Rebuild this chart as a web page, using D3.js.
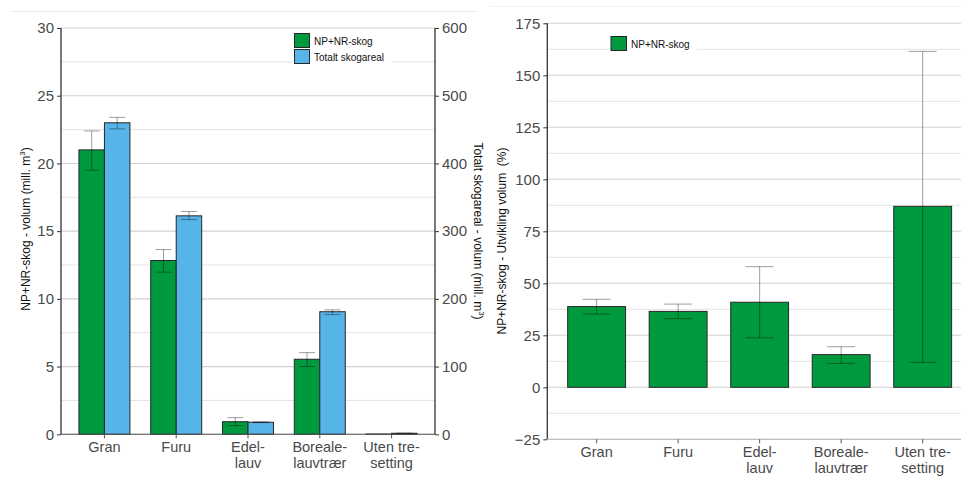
<!DOCTYPE html>
<html><head><meta charset="utf-8">
<script src="https://cdn.jsdelivr.net/npm/d3@7"></script>
<style>
body{margin:0;background:#fff;}
svg{display:block;font-family:"Liberation Sans",Arial,sans-serif;}
</style></head>
<body>
<svg id="c" width="961" height="495"></svg>
<script>
const categories = [["Gran"],["Furu"],["Edel-","lauv"],["Boreale-","lauvtrær"],["Uten tre-","setting"]];
const catKeys = ["Gran","Furu","Edel","Boreale","Uten"];
// Left panel: volume
const npVol   = [21.0, 12.83, 0.93, 5.54, 0.02];
const npVolLo = [19.5, 11.97, 0.64, 5.0, 0.02];
const npVolHi = [22.4, 13.64, 1.23, 6.03, 0.02];
const totVol   = [460, 322.6, 17.8, 181, 1.5];
const totVolLo = [451, 317, 17.3, 176.8, 1.2];
const totVolHi = [468, 329, 18.3, 183.8, 1.8];
const leftTicks = [0,5,10,15,20,25,30];
const rightTicks = [0,100,200,300,400,500,600];
// Right panel: development %
const devPct   = [38.8, 36.5, 40.9, 15.7, 87.0];
const devPctLo = [35.2, 33.0, 23.8, 11.5, 12.0];
const devPctHi = [42.3, 40.0, 58.0, 19.5, 161.5];
const devTicks = [-25,0,25,50,75,100,125,150,175];

const GREEN="#009a3e", BLUE="#56b4e9", STROKE="#262626";
const TICKCOL="#4a4a4a", GRIDMAJ="#d2d2d2", GRIDMIN="#e4e4e4", ERR="rgba(0,0,0,0.38)";
const svg = d3.select("#c");

// faint frame lines
svg.append("line").attr("x1",11).attr("x2",477).attr("y1",11.5).attr("y2",11.5).attr("stroke","#ececec");
svg.append("line").attr("x1",490).attr("x2",961).attr("y1",6.5).attr("y2",6.5).attr("stroke","#f2f2f2");

function catLabel(g, cx, y0, lines){
  lines.forEach((ln,j)=>g.append("text").attr("text-anchor","middle").attr("fill",TICKCOL)
    .style("font-size","14.5px").attr("x",cx).attr("y",y0+j*16.5).text(ln));
}

// ---------- LEFT PANEL ----------
(function(){
  const x0=61, x1=435, yTop=28, yBot=434.3;
  const y = d3.scaleLinear().domain([0,30]).range([yBot,yTop]);
  const y2 = d3.scaleLinear().domain([0,600]).range([yBot,yTop]);
  const xb = d3.scaleBand().domain(catKeys).range([x0,x1]).paddingInner(0.29).paddingOuter(0.25);
  const xs = d3.scaleBand().domain(["np","tot"]).range([0,xb.bandwidth()]);
  const g = svg.append("g");
  // grid
  const minor = d3.range(2.5,30,5);
  g.selectAll(".mn").data(minor).join("line").attr("x1",x0).attr("x2",x1)
    .attr("y1",d=>y(d)).attr("y2",d=>y(d)).attr("stroke",GRIDMIN).attr("stroke-width",1);
  g.selectAll(".mj").data(leftTicks).join("line").attr("x1",x0).attr("x2",x1)
    .attr("y1",d=>y(d)).attr("y2",d=>y(d)).attr("stroke",GRIDMAJ).attr("stroke-width",1.1);
  // bars
  catKeys.forEach((k,i)=>{
    g.append("rect").attr("x",xb(k)+xs("np")).attr("width",xs.bandwidth())
      .attr("y",y(npVol[i])).attr("height",y(0)-y(npVol[i]))
      .attr("fill",GREEN).attr("stroke",STROKE).attr("stroke-width",1);
    g.append("rect").attr("x",xb(k)+xs("tot")).attr("width",xs.bandwidth())
      .attr("y",y2(totVol[i])).attr("height",y2(0)-y2(totVol[i]))
      .attr("fill",BLUE).attr("stroke",STROKE).attr("stroke-width",1);
  });
  // error bars
  function eb(cx, lo, hi, sc, w){
    const e=g.append("g").attr("stroke",ERR).attr("stroke-width",1);
    e.append("line").attr("x1",cx).attr("x2",cx).attr("y1",sc(lo)).attr("y2",sc(hi));
    e.append("line").attr("x1",cx-w/2).attr("x2",cx+w/2).attr("y1",sc(lo)).attr("y2",sc(lo));
    e.append("line").attr("x1",cx-w/2).attr("x2",cx+w/2).attr("y1",sc(hi)).attr("y2",sc(hi));
  }
  catKeys.forEach((k,i)=>{
    if(npVolHi[i]>npVolLo[i]) eb(xb(k)+xs("np")+xs.bandwidth()/2, npVolLo[i], npVolHi[i], y, 16);
    if(totVolHi[i]>totVolLo[i]) eb(xb(k)+xs("tot")+xs.bandwidth()/2, totVolLo[i], totVolHi[i], y2, 16);
  });
  // axes
  const ax = g.append("g").attr("transform",`translate(${x0},0)`)
    .call(d3.axisLeft(y).tickValues(leftTicks).tickSize(4).tickPadding(3));
  const ax2 = g.append("g").attr("transform",`translate(${x1},0)`)
    .call(d3.axisRight(y2).tickValues(rightTicks).tickSize(4).tickPadding(3));
  const axb = g.append("g").attr("transform",`translate(0,${yBot})`)
    .call(d3.axisBottom(xb).tickSize(4).tickFormat(""));
  [ax,ax2].forEach(a=>{
    a.select(".domain").attr("stroke","#333").attr("stroke-width",1.3).attr("d",`M0,${yTop}V${yBot}`);
    a.selectAll(".tick line").attr("stroke","#333");
    a.selectAll("text").attr("fill",TICKCOL).style("font-size","15px").style("font-family","Liberation Sans, Arial, sans-serif");
  });
  axb.select(".domain").attr("stroke","#555").attr("stroke-width",1.1).attr("d",`M${x0},0H${x1}`);
  axb.selectAll(".tick line").attr("stroke","#555");
  catKeys.forEach((k,i)=>catLabel(g, xb(k)+xb.bandwidth()/2, 451.5, categories[i]));
  // axis titles
  const t1 = g.append("text").attr("transform","translate(30,229) rotate(-90)").attr("text-anchor","middle")
    .style("font-size","12px").attr("fill","#111");
  t1.append("tspan").text("NP+NR-skog - volum (mill. m");
  t1.append("tspan").attr("dy",-5).style("font-size","8px").text("3");
  t1.append("tspan").attr("dy",5).text(")");
  const t2 = g.append("text").attr("transform","translate(474,231) rotate(90)").attr("text-anchor","middle")
    .style("font-size","12px").attr("fill","#111");
  t2.append("tspan").text("Totalt skogareal - volum (mill. m");
  t2.append("tspan").attr("dy",-5).style("font-size","8px").text("3");
  t2.append("tspan").attr("dy",5).text(")");
  // legend
  const lg = g.append("g");
  lg.append("rect").attr("x",292).attr("y",31).attr("width",99).attr("height",34).attr("fill","#fff");
  [["NP+NR-skog",GREEN],["Totalt skogareal",BLUE]].forEach((d,i)=>{
    lg.append("rect").attr("x",294.5).attr("y",33.5+i*16).attr("width",15).attr("height",14)
      .attr("fill",d[1]).attr("stroke",STROKE).attr("stroke-width",1);
    lg.append("text").attr("x",314).attr("y",44.5+i*16).style("font-size","10px").attr("fill","#111").text(d[0]);
  });
})();

// ---------- RIGHT PANEL ----------
(function(){
  const x0=547.3, x1=972, yTop=23.3, yBot=439.3;
  const y = d3.scaleLinear().domain([-25,175]).range([yBot,yTop]);
  const xb = d3.scaleBand().domain(catKeys).range([x0,x1]).paddingInner(0.29).paddingOuter(0.25);
  const g = svg.append("g");
  const minor = d3.range(-12.5,175,25);
  g.selectAll(".mn").data(minor).join("line").attr("x1",x0).attr("x2",961)
    .attr("y1",d=>y(d)).attr("y2",d=>y(d)).attr("stroke",GRIDMIN).attr("stroke-width",1);
  g.selectAll(".mj").data(devTicks.filter(d=>d>-25)).join("line").attr("x1",x0).attr("x2",961)
    .attr("y1",d=>y(d)).attr("y2",d=>y(d)).attr("stroke",GRIDMAJ).attr("stroke-width",1.1);
  catKeys.forEach((k,i)=>{
    g.append("rect").attr("x",xb(k)).attr("width",xb.bandwidth())
      .attr("y",y(devPct[i])).attr("height",y(0)-y(devPct[i]))
      .attr("fill",GREEN).attr("stroke",STROKE).attr("stroke-width",1);
  });
  catKeys.forEach((k,i)=>{
    const cx = xb(k)+xb.bandwidth()/2, w=28;
    const e=g.append("g").attr("stroke",ERR).attr("stroke-width",1);
    e.append("line").attr("x1",cx).attr("x2",cx).attr("y1",y(devPctLo[i])).attr("y2",y(devPctHi[i]));
    e.append("line").attr("x1",cx-w/2).attr("x2",cx+w/2).attr("y1",y(devPctLo[i])).attr("y2",y(devPctLo[i]));
    e.append("line").attr("x1",cx-w/2).attr("x2",cx+w/2).attr("y1",y(devPctHi[i])).attr("y2",y(devPctHi[i]));
  });
  const ax = g.append("g").attr("transform",`translate(${x0},0)`)
    .call(d3.axisLeft(y).tickValues(devTicks).tickSize(4).tickPadding(3));
  ax.select(".domain").attr("stroke","#333").attr("stroke-width",1.3).attr("d",`M0,${yTop}V${yBot}`);
  ax.selectAll(".tick line").attr("stroke","#333");
  ax.selectAll("text").attr("fill",TICKCOL).style("font-size","15px").style("font-family","Liberation Sans, Arial, sans-serif");
  const axb = g.append("g").attr("transform",`translate(0,${yBot})`)
    .call(d3.axisBottom(xb).tickSize(4).tickFormat(""));
  axb.select(".domain").attr("stroke","#aaa").attr("stroke-width",1.1).attr("d",`M${x0},0H961`);
  axb.selectAll(".tick line").attr("stroke","#555");
  catKeys.forEach((k,i)=>catLabel(g, xb(k)+xb.bandwidth()/2, 456.5, categories[i]));
  g.append("text").attr("transform","translate(506,241) rotate(-90)").attr("text-anchor","middle")
    .style("font-size","12px").attr("fill","#111").style("white-space","pre")
    .text("NP+NR-skog - Utvikling volum  (%)");
  const lg=g.append("g");
  lg.append("rect").attr("x",609).attr("y",34).attr("width",88).attr("height",19).attr("fill","#fff");
  lg.append("rect").attr("x",611).attr("y",36.5).attr("width",15.5).attr("height",14)
    .attr("fill",GREEN).attr("stroke",STROKE).attr("stroke-width",1);
  lg.append("text").attr("x",631).attr("y",47.5).style("font-size","10px").attr("fill","#111").text("NP+NR-skog");
})();
</script>
</body></html>
